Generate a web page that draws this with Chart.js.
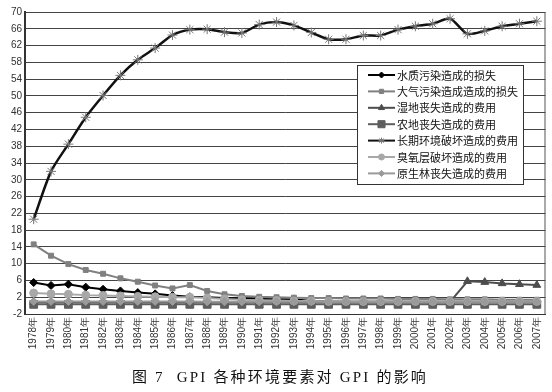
<!DOCTYPE html>
<html><head><meta charset="utf-8">
<script src="https://cdn.jsdelivr.net/npm/chart.js@4/dist/chart.umd.min.js"></script>
<style>html,body{margin:0;padding:0;background:#fff;}canvas{display:block;}</style>
</head><body>
<canvas id="c" width="552" height="392"></canvas>
<script>
const years = ['1978年','1979年','1980年','1981年','1982年','1983年','1984年','1985年','1986年','1987年','1988年','1989年','1990年','1991年','1992年','1993年','1994年','1995年','1996年','1997年','1998年','1999年','2000年','2001年','2002年','2003年','2004年','2005年','2006年','2007年'];
const seriesNames = ['水质污染造成的损失','大气污染造成造成的损失','湿地丧失造成的费用','农地丧失造成的费用','长期环境破坏造成的费用','臭氧层破坏造成的费用','原生林丧失造成的费用'];
const waterLoss = [5.5,4.8,5.1,4.4,3.9,3.5,3.1,2.8,2.4,2.1,2.0,1.8,1.7,1.6,1.5,1.5,1.1,1.0,0.9,0.9,0.9,0.9,0.9,0.9,0.9,0.9,0.9,0.9,0.9,0.9];
const airLoss = [14.6,11.9,9.9,8.5,7.6,6.5,5.7,4.8,4.1,4.9,3.5,2.7,2.3,2.1,2.0,1.9,1.8,1.8,1.7,1.7,1.7,1.6,1.6,1.6,1.5,1.5,1.5,1.4,1.4,1.4];
const wetlandCost = [0.8,0.8,0.8,0.8,0.8,0.8,0.8,0.8,0.8,0.8,0.8,0.8,0.8,0.8,0.8,0.8,0.8,0.8,0.8,0.8,0.8,0.8,0.8,0.8,0.9,5.8,5.6,5.3,5.1,4.9];
const farmlandCost = [0.3,0.3,0.3,0.3,0.3,0.3,0.3,0.3,0.3,0.3,0.3,0.3,0.3,0.3,0.3,0.3,0.3,0.3,0.3,0.3,0.3,0.3,0.3,0.3,0.3,0.3,0.3,0.3,0.3,0.3];
const longTermCost = [20.6,32.0,38.5,44.9,50.1,54.9,58.6,61.4,64.5,65.8,65.9,65.2,65.0,67.0,67.6,66.8,65.1,63.5,63.5,64.4,64.4,65.8,66.6,67.2,68.4,64.8,65.5,66.6,67.2,67.8];
const ozoneCost = [3.0,2.8,2.7,2.5,2.4,2.3,2.2,2.1,2.0,2.0,1.8,1.6,1.4,1.3,1.2,1.1,1.1,1.0,1.0,1.0,1.0,1.0,1.0,1.0,1.0,1.0,1.0,1.0,1.0,1.0];
const forestCost = [1.0,1.0,1.0,1.0,1.0,1.0,1.0,1.0,1.0,1.0,0.9,0.9,0.9,0.9,0.9,0.9,0.9,0.9,0.9,0.9,0.9,0.9,0.9,0.9,0.9,0.9,0.9,0.9,0.9,0.9];
const yMin = -2, yMax = 70, yStep = 4;
const titleText = '图 7  GPI 各种环境要素对 GPI 的影响';

const styles = [
  {c:'#000000', pc:'#000000', ps:'rectRot', r:4, lr:3, bw:2},
  {c:'#808080', pc:'#808080', ps:'rect', r:3.5, lr:3, bw:2},
  {c:'#4d4d4d', pc:'#4d4d4d', ps:'triangle', r:4.5, lr:3.5, bw:2},
  {c:'#5e5e5e', pc:'#5e5e5e', ps:'rect', r:5.5, lr:5, bw:2},
  {c:'#111111', pc:'#777777', ps:'star', r:5, lr:3, bw:2.5},
  {c:'#a8a8a8', pc:'#a8a8a8', ps:'circle', r:4, lr:3, bw:2},
  {c:'#9a9a9a', pc:'#9a9a9a', ps:'rectRot', r:4, lr:3, bw:2}
];
const values = [waterLoss, airLoss, wetlandCost, farmlandCost, longTermCost, ozoneCost, forestCost];

const datasets = seriesNames.map((n,i)=>({
  label:n, data:values[i], borderColor:styles[i].c, backgroundColor:styles[i].pc,
  pointBorderColor:styles[i].pc, pointBackgroundColor:styles[i].pc,
  pointStyle:styles[i].ps, pointRadius:styles[i].r, pointBorderWidth:1,
  borderWidth:styles[i].bw, tension: i===4?0.25:0, order: 7-i, fill:false
}));

const frameLegend = {
  id:'frameLegend',
  beforeDatasetsDraw(chart){
    const a=chart.chartArea, ctx=chart.ctx;
    ctx.save(); ctx.strokeStyle='#555'; ctx.lineWidth=1;
    ctx.beginPath(); ctx.moveTo(a.right-0.5,a.top); ctx.lineTo(a.right-0.5,a.bottom); ctx.stroke();
    ctx.restore();
  },
  afterDatasetsDraw(chart){
    const ctx=chart.ctx;
    const bx=357.5, by=65.5, bw=166, bh=119;
    ctx.save();
    ctx.fillStyle='#fff'; ctx.fillRect(bx,by,bw,bh);
    ctx.strokeStyle='#333'; ctx.lineWidth=1; ctx.strokeRect(bx,by,bw,bh);
    ctx.font='11px "Noto Sans CJK SC", sans-serif';
    ctx.textBaseline='middle'; ctx.textAlign='left';
    chart.data.datasets.forEach((d,i)=>{
      const y = 75 + i*16.4;
      ctx.strokeStyle=styles[i].c; ctx.lineWidth=2;
      ctx.beginPath(); ctx.moveTo(368,y); ctx.lineTo(395,y); ctx.stroke();
      ctx.fillStyle=styles[i].pc; ctx.strokeStyle=styles[i].pc; ctx.lineWidth=1;
      Chart.helpers.drawPoint(ctx,{pointStyle:styles[i].ps, radius:styles[i].lr, rotation:0, borderWidth:1}, 381.5, y);
      ctx.fillStyle='#111';
      ctx.fillText(d.label, 397, y+0.5);
    });
    ctx.restore();
  },
  afterDraw(chart){
    const ctx=chart.ctx;
    ctx.save();
    ctx.font='15px "Liberation Serif", "Noto Sans CJK SC", serif';
    ctx.letterSpacing='2.2px';
    ctx.fillStyle='#111'; ctx.textAlign='center'; ctx.textBaseline='middle';
    ctx.fillText(titleText, 280, 378.5);
    ctx.restore();
  }
};

new Chart(document.getElementById('c'), {
  type:'line',
  data:{labels:years, datasets},
  options:{
    responsive:false, animation:false,
    layout:{padding:{top:12,right:5,left:0,bottom:26.8}},
    plugins:{ legend:{display:false}, tooltip:{enabled:false} },
    scales:{
      x:{offset:true,
        grid:{display:false, drawTicks:false},
        border:{display:true,color:'#333',width:1},
        ticks:{minRotation:90,maxRotation:90,autoSkip:false,padding:3,color:'#333',
          font:{family:'"Liberation Sans", Arial, sans-serif', size:10}},
        afterFit(s){ s.height = 51.2; }
      },
      y:{min:yMin,max:yMax,
        grid:{color:'#444',lineWidth:1,drawTicks:false},
        border:{display:true,color:'#333',width:2},
        ticks:{stepSize:yStep,padding:3,color:'#333',
          font:{family:'"Liberation Sans", Arial, sans-serif', size:10}},
        afterFit(s){ s.width = 25; }
      }
    }
  },
  plugins:[frameLegend]
});
</script>
</body></html>
